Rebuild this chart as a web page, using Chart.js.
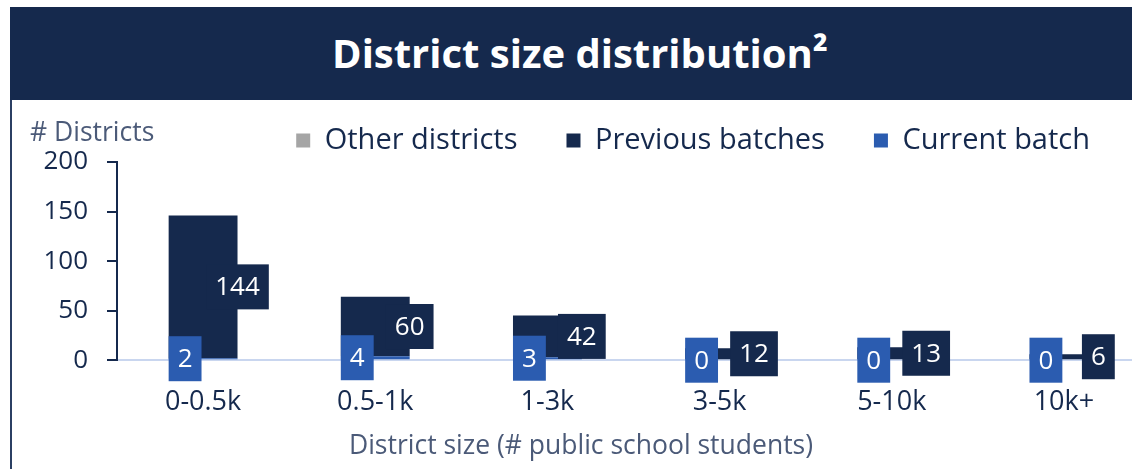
<!DOCTYPE html>
<html>
<head>
<meta charset="utf-8">
<script src="https://cdn.jsdelivr.net/npm/chart.js@4.4.0/dist/chart.umd.min.js"></script>
<style>
  html, body { margin: 0; padding: 0; background: #fff; overflow: hidden; width: 1132px; height: 469px; }
  #head { position: absolute; left: 10px; top: 7px; width: 1140px; height: 93px; background: #15294d; color: #fff;
          font: bold 40px 'Open Sans', sans-serif; text-align: center; line-height: 91px; z-index: 2; }
  #edge { position: absolute; left: 10px; top: 100px; width: 2px; height: 369px; background: #2b3f63; }
  #wrap { position: absolute; left: 12px; top: 74px; width: 1138px; height: 395px; }
</style>
</head>
<body>
<div id="head">District size distribution²</div>
<div id="edge"></div>
<div id="wrap"><canvas id="myChart" width="1138" height="395"></canvas></div>
<script>
'use strict';

let sizes = ['0-0.5k', '0.5-1k', '1-3k', '3-5k', '5-10k', '10k+'];
let currentBatch = [2, 4, 3, 0, 0, 0];
let previousBatches = [144, 60, 42, 12, 13, 6];
let otherDistricts = [0, 0, 0, 0, 0, 0];

let navy = '#15294d';
let blue = '#2b5cb0';
let grey = '#a5a5a5';
let muted = '#4b5a78';
let font = 'Open Sans';

function drawBox(ctx, text, cx, cy, bg) {
  ctx.font = `26px "${font}"`;
  let w = ctx.measureText(text).width + 18;
  let h = 45;
  ctx.fillStyle = bg;
  ctx.fillRect(cx - w / 2, cy - h / 2, w, h);
  ctx.fillStyle = '#fff';
  ctx.textAlign = 'center';
  ctx.textBaseline = 'middle';
  ctx.fillText(text, cx, cy + 1);
}

// value boxes + the "# Districts" caption over the y axis
let boxLabels = {
  id: 'boxLabels',
  afterLayout(chart) {
    // nudge legend a bit left / down
    chart.legend.right -= 11;
    chart.legend.top += 3;
  },
  afterDatasetsDraw(chart) {
    let ctx = chart.ctx;
    ctx.save();
    chart.getDatasetMeta(1).data.forEach((bar, i) => {
      drawBox(ctx, String(previousBatches[i]), bar.x + bar.width / 2, (bar.y + bar.base) / 2, navy);
    });
    chart.getDatasetMeta(0).data.forEach((bar, i) => {
      drawBox(ctx, String(currentBatch[i]), bar.x - 18, (bar.y + bar.base) / 2, blue);
    });
    ctx.font = `26.5px "${font}"`;
    ctx.fillStyle = muted;
    ctx.textAlign = 'left';
    ctx.textBaseline = 'middle';
    ctx.fillText('# Districts', chart.chartArea.left - 87, chart.chartArea.top - 29);
    ctx.restore();
  }
};

let ctx = document.getElementById('myChart').getContext('2d');

new Chart(ctx, {
  type: 'bar',
  data: {
    labels: sizes,
    datasets: [
      { label: 'Current batch', data: currentBatch, backgroundColor: blue },
      { label: 'Previous batches', data: previousBatches, backgroundColor: navy },
      { label: 'Other districts', data: otherDistricts, backgroundColor: grey }
    ]
  },
  options: {
    responsive: false,
    animation: false,
    devicePixelRatio: 1,
    datasets: { bar: { categoryPercentage: 1, barPercentage: 0.4 } },
    layout: { padding: 0 },
    plugins: {
      legend: {
        position: 'top',
        align: 'end',
        labels: {
          boxWidth: 14,
          boxHeight: 14,
          padding: 49,
          color: navy,
          font: { family: font, size: 29 },
          sort: (a, b) => b.datasetIndex - a.datasetIndex
        }
      },
      title: {
        display: true,
        position: 'bottom',
        text: 'District size (# public school students)',
        color: muted,
        font: { family: font, size: 26.5, weight: 'normal' },
        padding: { top: 4, bottom: 7 }
      },
      tooltip: { enabled: false }
    },
    scales: {
      x: {
        stacked: true,
        grid: { display: false },
        border: { color: '#c9d6ef', width: 2 },
        ticks: { color: navy, font: { family: font, size: 27 }, padding: 18 },
        afterFit(s) { s.height = 66; }
      },
      y: {
        stacked: true,
        min: 0,
        max: 200,
        ticks: { stepSize: 50, color: navy, font: { family: font, size: 26 }, padding: 19 },
        grid: { drawOnChartArea: false, color: navy, lineWidth: 2, tickLength: 10 },
        border: { color: navy, width: 2 },
        afterFit(s) { s.width = 105; }
      }
    }
  },
  plugins: [boxLabels]
});
</script>
</body>
</html>
